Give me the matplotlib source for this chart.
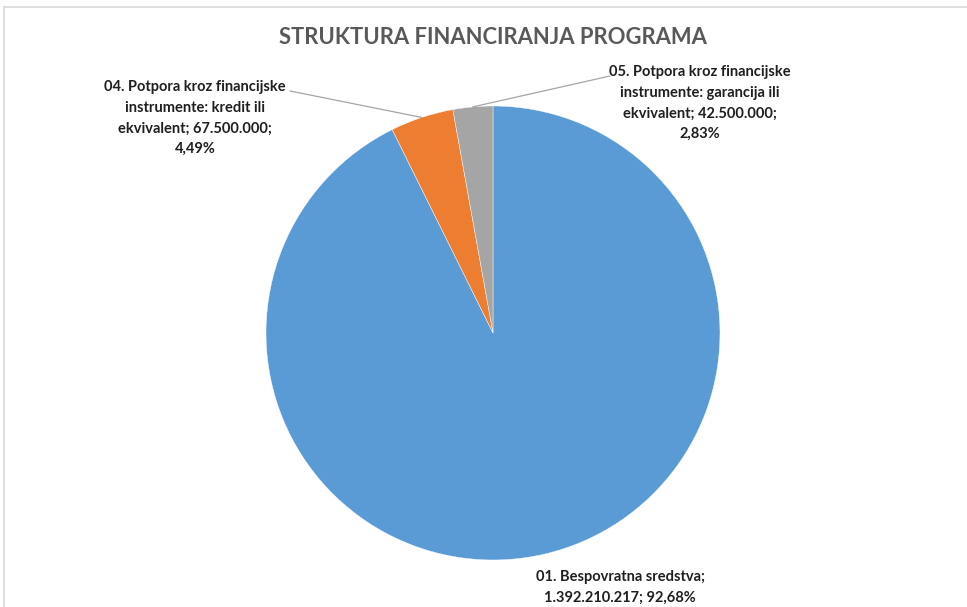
import matplotlib
matplotlib.use("Agg")
import matplotlib.pyplot as plt
from matplotlib.patches import Rectangle
import numpy as np

# -----------------------------
# Data
# -----------------------------
categories = ["01. Bespovratna sredstva",
              "04. Potpora kroz financijske instrumente: kredit ili ekvivalent",
              "05. Potpora kroz financijske instrumente: garancija ili ekvivalent"]
values = [1392210217, 67500000, 42500000]
pct_labels = ["92,68%", "4,49%", "2,83%"]
value_labels = ["1.392.210.217", "67.500.000", "42.500.000"]
colors = ["#5B9BD5", "#ED7D31", "#A5A5A5"]

plt.rcParams["font.family"] = ["Lato", "DejaVu Sans"]

W, H = 967, 607
fig = plt.figure(figsize=(W / 100, H / 100), dpi=100)
fig.patch.set_facecolor("white")

# chart frame (light border like the Excel chart area)
fig.patches.append(Rectangle((4, -20), 1100, H - 7 + 20, transform=None,
                             fill=False, edgecolor="#d9d9d9", linewidth=1.2))

# pie axes: centre (493, 333) px, radius 227 px
cx, cy, r = 493, 333, 227
ax = fig.add_axes([(cx - r) / W, (H - cy - r) / H, 2 * r / W, 2 * r / H])
wedges, _ = ax.pie(values, colors=colors, startangle=90, counterclock=False,
                   radius=1, wedgeprops=dict(linewidth=0.3, edgecolor="white"))
ax.set_xlim(-1, 1)
ax.set_ylim(-1, 1)
ax.set_aspect("equal")
ax.axis("off")

fig.text(cx / W, 1 - 37 / H, "STRUKTURA FINANCIRANJA PROGRAMA", ha="center",
         va="center", fontsize=15.8, fontweight="bold", color="#595959")

label_txt = [
    categories[0] + ";\n" + value_labels[0] + "; " + pct_labels[0],
    "04. Potpora kroz financijske\ninstrumente: kredit ili\nekvivalent; " + value_labels[1] + ";\n" + pct_labels[1],
    "05. Potpora kroz financijske\ninstrumente: garancija ili\nekvivalent; " + value_labels[2] + ";\n" + pct_labels[2],
]
# label centres in image pixels
label_pos = [(620, 587), (195, 118), (700, 103)]
line_start = [None, (290, 91), (610, 76)]

for i, w in enumerate(wedges):
    lx, ly = label_pos[i]
    fig.text(lx / W, 1 - ly / H, label_txt[i], ha="center", va="center",
             fontsize=10.5, fontweight="bold", color="#1f1f1f", linespacing=1.6)
    if line_start[i] is not None:
        mid = np.deg2rad((w.theta1 + w.theta2) / 2)
        px, py = np.cos(mid), np.sin(mid)
        sx, sy = line_start[i]
        ax.annotate("", xy=(px, py), xycoords="data",
                    xytext=(sx, H - sy), textcoords="figure pixels",
                    arrowprops=dict(arrowstyle="-", color="#a6a6a6", lw=0.9,
                                    shrinkA=0, shrinkB=0))

fig.savefig("out.png", dpi=100)
